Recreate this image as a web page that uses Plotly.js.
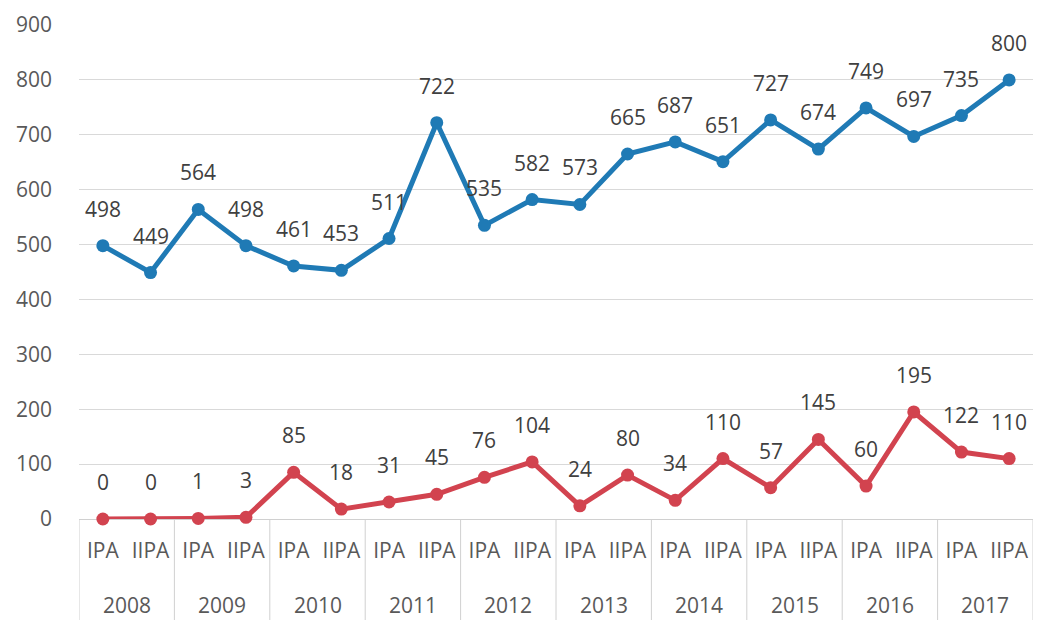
<!DOCTYPE html>
<html><head><meta charset="utf-8">
<script src="https://cdn.plot.ly/plotly-3.0.1.min.js"></script>
<style>html,body{margin:0;padding:0;background:#fff}#chart{width:1039px;height:620px}</style>
</head><body><div id="chart"></div>
<script>
const years = ["2008","2009","2010","2011","2012","2013","2014","2015","2016","2017"];
const types = ["IPA","IIPA"];
const blueValues = [498,449,564,498,461,453,511,722,535,582,573,665,687,651,727,674,749,697,735,800];
const redValues = [0,0,1,3,85,18,31,45,76,104,24,80,34,110,57,145,60,195,122,110];

const idx = [], tickText = [];
years.forEach(y => types.forEach(t => { idx.push(idx.length); tickText.push(t); }));

const font = "Open Sans, Noto Sans, sans-serif";
const plotH = 620 - 25 - 101;

function trace(vals, color) {
  return {
    type: "scatter", mode: "lines+markers",
    x: idx, y: vals,
    line: {color: color, width: 5},
    marker: {color: color, size: 13},
    cliponaxis: false, showlegend: false, hoverinfo: "skip"
  };
}
const data = [trace(blueValues, "#1f7ab5"), trace(redValues, "#d2434f")];

const annotations = [];
[blueValues, redValues].forEach(vals => vals.forEach((v, i) => {
  annotations.push({x: idx[i], y: v, xref: "x", yref: "y", text: String(v), showarrow: false,
    yshift: 37, font: {family: font, size: 21, color: "#404040"}});
}));
years.forEach((y, k) => {
  annotations.push({x: 2*k + 0.5, y: -(605-519)/plotH, xref: "x", yref: "paper", text: y,
    showarrow: false, yanchor: "middle", font: {family: font, size: 21, color: "#595959"}});
});
const shapes = [];
for (let k = 0; k <= years.length; k++) {
  shapes.push({type: "line", xref: "x", yref: "paper", x0: 2*k - 0.5, x1: 2*k - 0.5,
    y0: 0, y1: -101/plotH, line: {color: "#d0d0d0", width: 1}});
}

const layout = {
  width: 1039, height: 620,
  margin: {l: 79, r: 6, t: 25, b: 101},
  paper_bgcolor: "#fff", plot_bgcolor: "#fff",
  xaxis: {
    range: [-0.5, 19.5], tickvals: idx, ticktext: tickText,
    showline: false, showgrid: false, zeroline: false, ticks: "",
    tickfont: {family: font, size: 21, color: "#595959"},
    ticklabelstandoff: 17, automargin: false
  },
  yaxis: {
    range: [0, 900], dtick: 100, tick0: 0,
    showgrid: true, gridcolor: "#d9d9d9", gridwidth: 1,
    zeroline: true, zerolinecolor: "#d0d0d0", zerolinewidth: 1,
    showline: false, ticks: "",
    tickfont: {family: font, size: 21, color: "#595959"},
    ticklabelstandoff: 26, automargin: false
  },
  annotations: annotations,
  shapes: shapes
};
Plotly.newPlot("chart", data, layout, {displayModeBar: false, staticPlot: true});
</script>
</body></html>
